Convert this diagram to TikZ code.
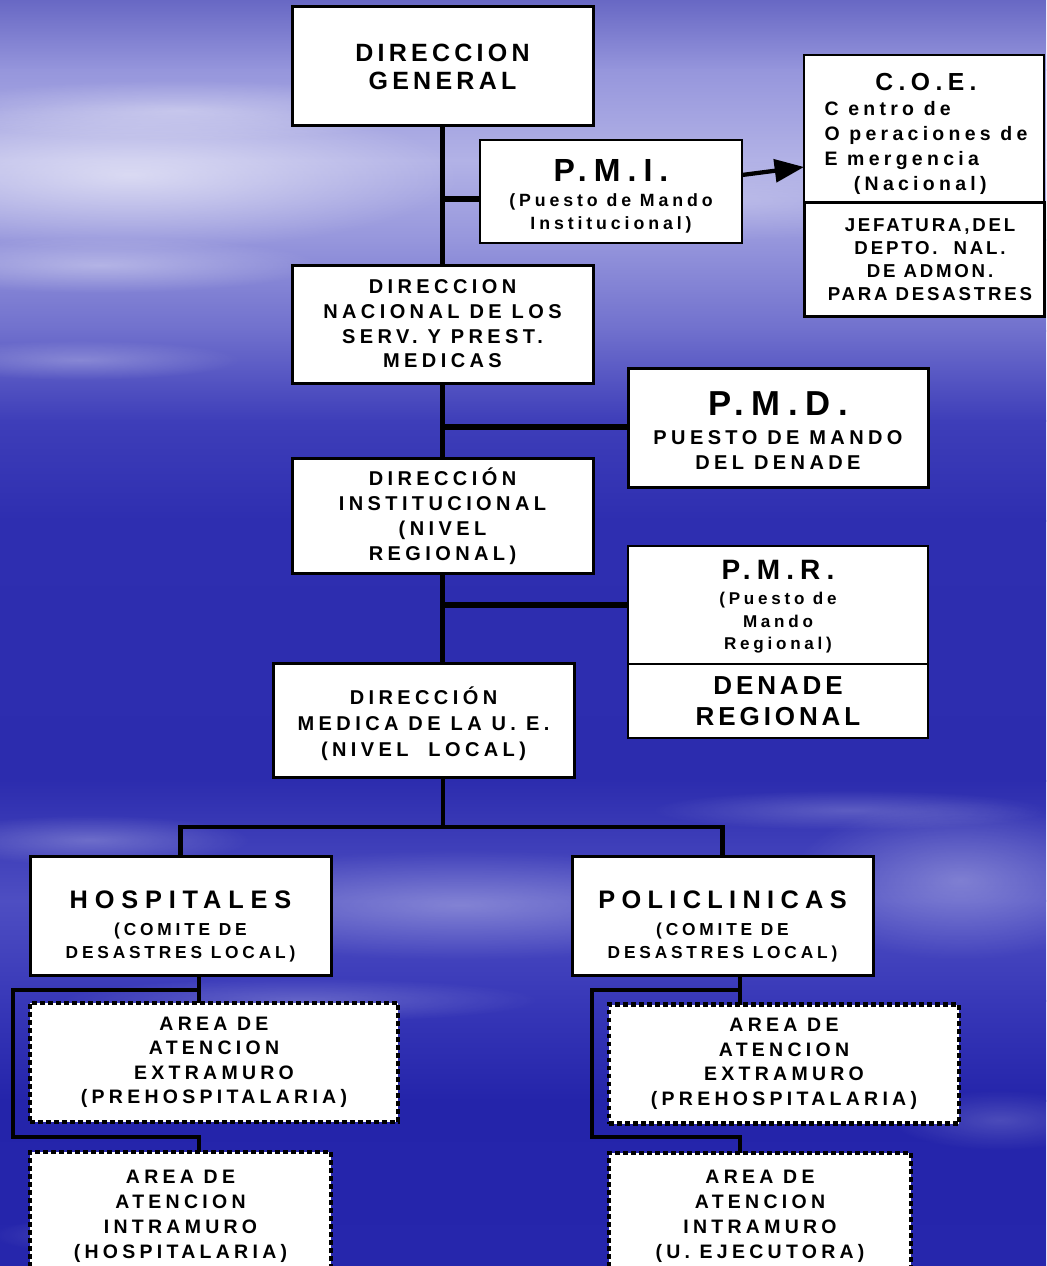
\documentclass[tikz,border=0pt]{standalone}
\usepackage{fontspec}
\setmainfont{Liberation Sans}[LetterSpace=22]
\usetikzlibrary{arrows.meta,fadings}
\tikzfading[name=softfade, inner color=transparent!0, outer color=transparent!100]
\newcommand\fsz[2]{\fontsize{#1}{#2}\selectfont}
\newcommand\lsp[1]{\addfontfeatures{LetterSpace=#1}}
\definecolor{bg0}{RGB}{104,104,196}
\definecolor{bg1}{RGB}{150,150,220}
\definecolor{bg2}{RGB}{178,178,230}
\definecolor{bg3}{RGB}{150,150,220}
\definecolor{bg4}{RGB}{112,112,205}
\definecolor{bg5}{RGB}{62,62,185}
\definecolor{bg6}{RGB}{46,46,176}
\definecolor{bg7}{RGB}{44,44,174}
\definecolor{bg8}{RGB}{78,78,194}
\definecolor{bg9}{RGB}{56,56,184}
\definecolor{bg10}{RGB}{36,36,170}
\definecolor{bg11}{RGB}{38,38,172}
\tikzset{
  box/.style={draw=black, fill=white, line width=2.25pt, inner sep=0pt, outer sep=0pt, align=center},
  thinbox/.style={box, line width=1.3pt},
  dotbox/.style={box, line width=3.6pt, dash pattern=on 3.6pt off 2.4pt},
  txt/.style={inner sep=0pt, align=center},
  wh/.style 2 args={minimum width=#1*0.75pt, minimum height=#2*0.75pt},
  conn/.style={line width=4.2pt, line cap=butt},
  connb/.style={line width=3.4pt, line cap=butt},
  connc/.style={line width=3pt, line cap=butt},
  cloud/.style={fill=white, path fading=softfade},
}
\begin{document}
\begin{tikzpicture}[x=0.75pt,y=-0.75pt]
\useasboundingbox (0,0) rectangle (1046,1266);
\clip (0,0) rectangle (1046,1266);
% background
\fill[top color=bg0, bottom color=bg1] (0,0) rectangle (1046,71);
\fill[top color=bg1, bottom color=bg2] (0,70) rectangle (1046,161);
\fill[top color=bg2, bottom color=bg3] (0,160) rectangle (1046,241);
\fill[top color=bg3, bottom color=bg4] (0,240) rectangle (1046,331);
\fill[top color=bg4, bottom color=bg5] (0,330) rectangle (1046,421);
\fill[top color=bg5, bottom color=bg6] (0,420) rectangle (1046,521);
\fill[top color=bg6, bottom color=bg7] (0,520) rectangle (1046,781);
\fill[top color=bg7, bottom color=bg8] (0,780) rectangle (1046,901);
\fill[top color=bg8, bottom color=bg9] (0,900) rectangle (1046,1001);
\fill[top color=bg9, bottom color=bg10] (0,1000) rectangle (1046,1101);
\fill[top color=bg10, bottom color=bg11] (0,1100) rectangle (1046,1266);
% clouds
\fill[cloud, fill opacity=0.55] (130,175) ellipse [x radius=330, y radius=75];
\fill[cloud, fill opacity=0.35] (180,110) ellipse [x radius=260, y radius=30];
\fill[cloud, fill opacity=0.35] (100,265) ellipse [x radius=220, y radius=28];
\fill[cloud, fill opacity=0.25] (720,200) ellipse [x radius=250, y radius=40];
\fill[cloud, fill opacity=0.25] (80,360) ellipse [x radius=160, y radius=20];
\fill[cloud, fill opacity=0.30] (460,905) ellipse [x radius=320, y radius=55];
\fill[cloud, fill opacity=0.30] (960,880) ellipse [x radius=170, y radius=80];
\fill[cloud, fill opacity=0.25] (90,840) ellipse [x radius=160, y radius=25];
\fill[cloud, fill opacity=0.20] (850,810) ellipse [x radius=200, y radius=20];
\fill[cloud, fill opacity=0.25] (160,1235) ellipse [x radius=170, y radius=22];
\fill[cloud, fill opacity=0.18] (1000,1120) ellipse [x radius=110, y radius=30];
\fill[cloud, fill opacity=0.22] (300,1000) ellipse [x radius=240, y radius=22];

% boxes
\node[box, wh={301}{119}, font=\bfseries\fsz{18.75}{21}\lsp{17}] (dg) at (442.5,66.5) {DIRECCION\\GENERAL};
\node[thinbox, wh={262}{103}] (pmi) at (611,191.5) {};
\node[txt, font=\bfseries\fsz{13.3}{17.25}] (pmitxt) at (611,196)
  {{\fsz{24}{25}P.M.I.}\\[1.5pt](Puesto de Mando\\Institucional)};
\node[thinbox, wh={240}{148}] (coe) at (924,129) {};
\node[txt, font=\bfseries\fsz{14.6}{18.75}] (coetxt) at (926,136)
  {\begin{tabular}{@{}l@{}}\multicolumn{1}{@{}c@{}}{\fsz{18.5}{18.75}C.O.E.}\\C entro de\\O peraciones de\\E mergencia\\\hspace*{22pt}(Nacional)\end{tabular}};
\node[box, wh={240}{113}] (jef) at (924,259.5) {};
\node[txt, font=\bfseries\fsz{14}{17.3}\lsp{15}] (jeftxt) at (930,259.5)
  {JEFATURA,DEL\\DEPTO.\ \ NAL.\\DE ADMON.\\PARA DESASTRES};
\node[box, wh={301}{118}, font=\bfseries\fsz{15}{18.5}] (dnspm) at (442.5,324)
  {DIRECCION\\NACIONAL DE LOS\\SERV. Y PREST.\\MEDICAS};
\node[box, wh={300}{119}] (pmd) at (778,427.5) {};
\node[txt, font=\bfseries\fsz{15}{18.75}] (pmdtxt) at (778,431)
  {{\fsz{26}{25}P.M.D.}\\[3pt]PUESTO DE MANDO\\DEL DENADE};
\node[box, wh={301}{115}, font=\bfseries\fsz{15}{18.75}] (di) at (442.5,516)
  {DIRECCIÓN\\INSTITUCIONAL\\(NIVEL\\REGIONAL)};
\node[thinbox, wh={300}{118}] (pmr) at (778,605) {};
\node[txt, font=\bfseries\fsz{12.8}{16.8}] (pmrtxt) at (778,607)
  {{\fsz{21}{25}P.M.R.}\\[2pt](Puesto de\\Mando\\Regional)};
\node[thinbox, wh={300}{74}, font=\bfseries\fsz{19.5}{23.25}\lsp{15}] (denr) at (778,701)
  {DENADE\\REGIONAL};
\node[box, wh={301}{114}] (dmue) at (423.5,720) {};
\node[txt, font=\bfseries\fsz{15}{19.5}] (dmuetxt) at (423.5,724)
  {DIRECCIÓN\\MEDICA DE LA U. E.\\(NIVEL\ \ LOCAL)};
\node[box, wh={301}{119}] (hosp) at (180.5,915.5) {};
\node[txt, font=\bfseries\fsz{13}{17.25}] (hosptxt) at (180.5,926)
  {{\fsz{19}{20}\lsp{27}HOSPITALES}\\[3pt](COMITE DE\\DESASTRES LOCAL)};
\node[box, wh={301}{119}] (poli) at (722.5,915.5) {};
\node[txt, font=\bfseries\fsz{13}{17.25}] (politxt) at (722.5,926)
  {{\fsz{19}{20}\lsp{25}POLICLINICAS}\\[3pt](COMITE DE\\DESASTRES LOCAL)};
\node[dotbox, wh={368}{119}, font=\bfseries\fsz{14.6}{18.4}] (exh) at (214,1062.5)
  {AREA DE\\ATENCION\\EXTRAMURO\\(PREHOSPITALARIA)};
\node[dotbox, wh={301}{128}, font=\bfseries\fsz{14.6}{18.75}] (inh) at (180.5,1216)
  {AREA DE\\ATENCION\\INTRAMURO\\(HOSPITALARIA)};
\node[dotbox, wh={350}{119}, font=\bfseries\fsz{14.6}{18.4}] (exp) at (784,1064)
  {AREA DE\\ATENCION\\EXTRAMURO\\(PREHOSPITALARIA)};
\node[dotbox, wh={302}{127}, font=\bfseries\fsz{14.6}{18.75}] (inp) at (760,1216.5)
  {AREA DE\\ATENCION\\INTRAMURO\\(U. EJECUTORA)};

% helper coordinates
\coordinate (b1) at (443,199);
\coordinate (b2) at (443,427);
\coordinate (a0) at (742,175);
\coordinate (a1) at (804,167);
\coordinate (bar) at (443,827);
\coordinate (hx) at (199,990);
\coordinate (hl) at (13,1137);
\coordinate (px) at (740,990);
\coordinate (pl) at (592,1137);

% connectors
\draw[conn] (dg.south) -- (dnspm.north);
\draw[conn] (b1) -- (b1 -| pmi.west);
\draw[line width=3.2pt, -{Triangle[length=22pt,width=17pt]}] (a0 -| pmi.east) -- (a1 -| coe.west);
\draw[conn] (dnspm.south) -- (di.north);
\draw[conn] (b2) -- (b2 -| pmd.west);
\draw[conn] (di.south) -- (di.south |- dmue.north);
\draw[conn] (di.south |- pmr.west) -- (pmr.west);
\draw[connb] (bar |- dmue.south) -- (bar);
\draw[connb] (hosp.north) |- (bar) -| (poli.north);
\draw[connc] (hx |- hosp.south) -- (hx |- exh.north);
\draw[connc] (hx) -| (hl) -| (hx |- inh.north);
\draw[connc] (px |- poli.south) -- (px |- exp.north);
\draw[connc] (px) -| (pl) -| (px |- inp.north);
\end{tikzpicture}
\end{document}
